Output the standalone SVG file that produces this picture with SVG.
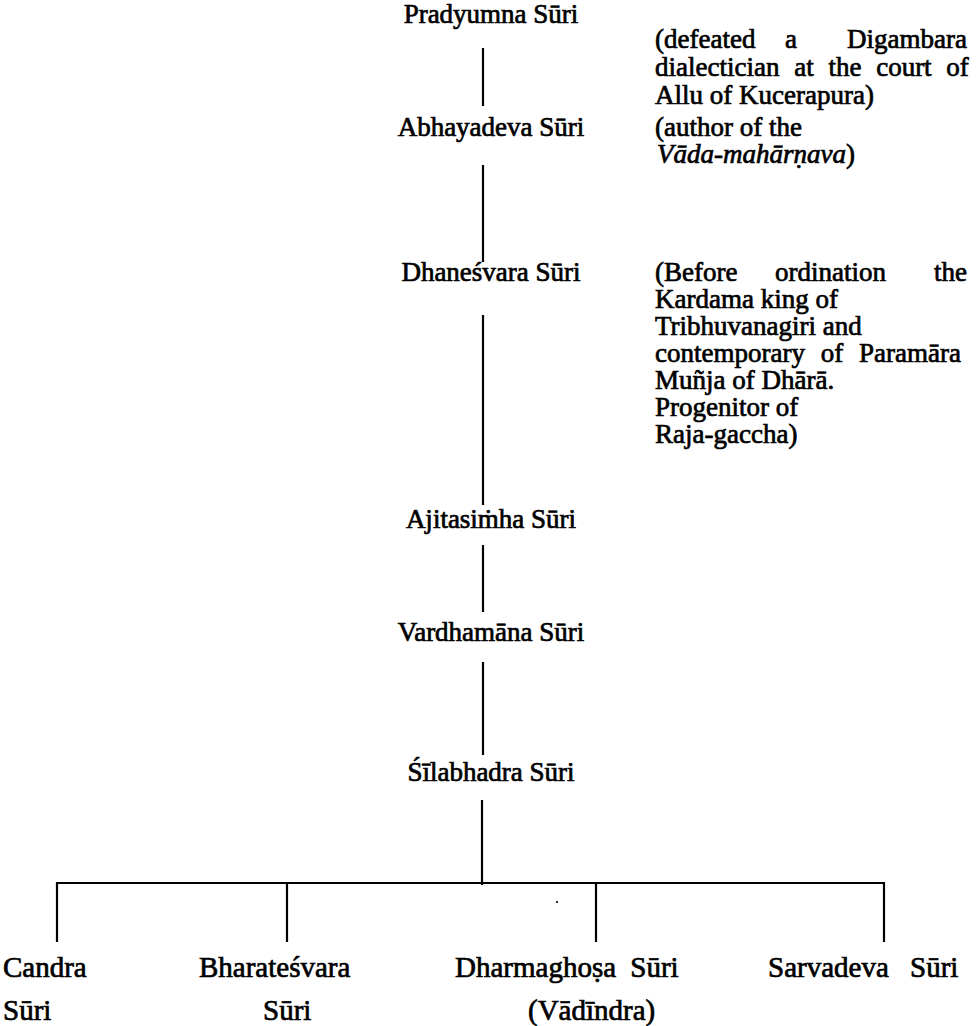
<svg xmlns="http://www.w3.org/2000/svg" width="979" height="1026" viewBox="0 0 979 1026">
<style>
text{font-family:"Liberation Serif","Times New Roman",serif;font-size:27px;fill:#000;stroke:#000;stroke-width:0.7}
.b{font-size:29px}
.n{text-anchor:middle}
.e{text-anchor:end}
.i{font-style:italic}
.c line{stroke:#000;stroke-width:2.2;stroke-linecap:butt}
</style>
<rect width="979" height="1026" fill="#fff"/>
<g class="c" id="connectors">
<line x1="483" y1="48" x2="483" y2="106"/>
<line x1="483" y1="165" x2="483" y2="262"/>
<line x1="483" y1="315" x2="483" y2="505"/>
<line x1="483" y1="545" x2="483" y2="612"/>
<line x1="483" y1="662" x2="483" y2="755"/>
<line x1="482" y1="800" x2="482" y2="885"/>
<line x1="56" y1="883" x2="885" y2="883"/>
<line x1="57" y1="882" x2="57" y2="942"/>
<line x1="287" y1="883" x2="287" y2="942"/>
<line x1="596" y1="883" x2="596" y2="942"/>
<line x1="884" y1="882" x2="884" y2="942"/>
<circle cx="557" cy="902" r="1.1" fill="#000"/>
</g>
<g id="pradyumna"><text class="n" x="491" y="23">Pradyumna Sūri</text></g>
<g id="note-pradyumna">
<text x="655" y="48">(defeated</text><text x="785" y="48">a</text><text class="e" x="967" y="48">Digambara</text>
<text x="655" y="76" word-spacing="8">dialectician at the court of</text>
<text x="655" y="104">Allu of Kucerapura)</text>
</g>
<g id="abhayadeva"><text class="n" x="491" y="136">Abhayadeva Sūri</text></g>
<g id="note-abhayadeva">
<text x="655" y="136">(author of the</text>
<text x="657" y="163"><tspan class="i">Vāda-mahārṇava</tspan>)</text>
</g>
<g id="dhanesvara"><text class="n" x="491" y="281">Dhaneśvara Sūri</text></g>
<g id="note-dhanesvara">
<text x="655" y="281">(Before</text><text x="775" y="281">ordination</text><text class="e" x="967" y="281">the</text>
<text x="655" y="308">Kardama king of</text>
<text x="655" y="335">Tribhuvanagiri and</text>
<text x="655" y="362" word-spacing="9">contemporary of Paramāra</text>
<text x="655" y="389">Muñja of Dhārā.</text>
<text x="655" y="416">Progenitor of</text>
<text x="655" y="443">Raja-gaccha)</text>
</g>
<g id="ajitasimha"><text class="n" x="491" y="528">Ajitasiṁha Sūri</text></g>
<g id="vardhamana"><text class="n" x="491" y="641">Vardhamāna Sūri</text></g>
<g id="silabhadra"><text class="n" x="491" y="781">Śīlabhadra Sūri</text></g>
<g id="candra"><text class="b" x="3" y="977">Candra</text><text class="b" x="3" y="1020">Sūri</text></g>
<g id="bharatesvara"><text class="b" x="199" y="977">Bharateśvara</text><text class="b" x="263" y="1020">Sūri</text></g>
<g id="dharmaghosa"><text class="b" x="455" y="977" word-spacing="7">Dharmaghoṣa Sūri</text><text class="b" x="528" y="1020">(Vādīndra)</text></g>
<g id="sarvadeva"><text class="b" x="768" y="977" word-spacing="14">Sarvadeva Sūri</text></g>
</svg>
